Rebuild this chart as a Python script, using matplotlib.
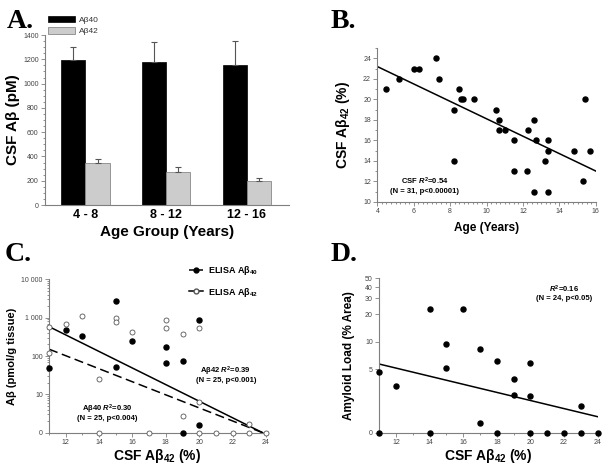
import numpy as np
import matplotlib
matplotlib.use("Agg")
import matplotlib.pyplot as plt
from matplotlib.ticker import MultipleLocator, NullLocator, NullFormatter, LogLocator
from matplotlib.lines import Line2D

plt.rcParams['font.family'] = ['Liberation Sans', 'DejaVu Sans']
plt.rcParams['mathtext.fontset'] = 'custom'
plt.rcParams['mathtext.rm'] = 'Liberation Sans'
plt.rcParams['mathtext.bf'] = 'Liberation Sans:bold'
plt.rcParams['mathtext.it'] = 'Liberation Sans:bold:italic'
plt.rcParams['mathtext.default'] = 'bf'

# --- A: CSF Abeta by age group
groups = ['4 - 8', '8 - 12', '12 - 16']
ab40 = [1195, 1180, 1150]
ab40_err = [110, 160, 200]
ab42 = [345, 270, 195]
ab42_err = [30, 40, 30]

# --- B: CSF Abeta42 % vs age
age = [4.5, 5.2, 6.0, 6.3, 7.2, 7.4, 8.2, 8.2, 8.5, 8.6, 8.7, 9.3, 10.5, 10.7, 10.7, 11.0,
       11.5, 11.5, 12.2, 12.3, 12.6, 12.6, 12.7, 13.2, 13.4, 13.4, 13.4, 14.8, 15.3, 15.4, 15.7]
csf_b = [21, 22, 23, 23, 24, 22, 19, 14, 21, 20, 20, 20, 19, 18, 17, 17,
         16, 13, 13, 17, 18, 11, 16, 14, 16, 15, 11, 15, 12, 20, 15]
fit_b_x = [4, 16]
fit_b_y = [23.2, 13.0]

# --- C: ELISA Abeta vs CSF Abeta42 %
c40_x = [11, 12, 13, 15, 15, 16, 18, 18, 19, 19, 20, 20]
c40_y = [48, 480, 330, 2800, 52, 243, 170, 66, 76, 0, 870, 1.6]
c42_x = [11, 11, 12, 13, 14, 14, 15, 15, 16, 17, 18, 18, 19, 19, 20, 20, 20, 21, 22, 23, 23, 24]
c42_y = [585, 123, 675, 1130, 25, 0, 970, 780, 415, 0, 860, 530, 380, 2.8, 540, 6.3, 0,
         0, 0, 1.7, 0, 0]
fit40_x = [11, 23.8]
fit40_y = [151, 1]
fit42_x = [11, 23.8]
fit42_y = [585, 1]

# --- D: amyloid load vs CSF Abeta42 %
d_x = [11, 11, 12, 14, 14, 15, 15, 16, 17, 17, 18, 18, 19, 19, 20, 20, 20, 21, 22, 23, 23, 24]
d_y = [4.65, 0, 3.3, 22.9, 0, 9.4, 5.2, 22.9, 8.3, 1.28, 6.2, 0, 3.95, 2.62, 5.9, 2.52, 0,
       0, 0, 1.95, 0, 0]
fit_d_x = [11, 24]
fit_d_y = [5.7, 1.5]

spine_col = '#7f7f7f'
tick_col = '#444444'


def style(ax):
    for s in ['top', 'right']:
        ax.spines[s].set_visible(False)
    for s in ['left', 'bottom']:
        ax.spines[s].set_color(spine_col)
        ax.spines[s].set_linewidth(0.8)
    ax.tick_params(which='both', colors=spine_col, labelcolor=tick_col, labelsize=5,
                   width=0.6, direction='out')
    ax.tick_params(which='major', length=3, pad=1.5)
    ax.tick_params(which='minor', length=1.6)


fig = plt.figure(figsize=(6.04, 4.67), dpi=100)

# ---------------- A
axA = fig.add_axes([0.0745, 0.561, 0.404, 0.364])
x = np.arange(len(groups))
w = 0.3
axA.bar(x - w / 2, ab40, w, color='black', edgecolor='black', linewidth=0.5, label='Aβ40')
axA.bar(x + w / 2, ab42, w, color='#cccccc', edgecolor='#888888', linewidth=0.6, label='Aβ42')
axA.errorbar(x - w / 2, ab40, yerr=[[0] * 3, ab40_err], fmt='none', ecolor='#555555',
             elinewidth=0.8, capsize=2.5, capthick=0.8)
axA.errorbar(x + w / 2, ab42, yerr=[[0] * 3, ab42_err], fmt='none', ecolor='#555555',
             elinewidth=0.8, capsize=2.5, capthick=0.8)
axA.set_xlim(-0.5, 2.52)
axA.set_ylim(0, 1400)
axA.yaxis.set_major_locator(MultipleLocator(200))
axA.yaxis.set_minor_locator(MultipleLocator(50))
style(axA)
axA.set_xticks(x)
axA.set_xticklabels(groups, fontsize=9, fontweight='bold', color='black')
axA.tick_params(axis='x', length=0, pad=3)
axA.set_ylabel('CSF Aβ (pM)', fontsize=11, fontweight='bold', labelpad=2)
axA.set_xlabel('Age Group (Years)', fontsize=11, fontweight='bold', labelpad=3)
axA.legend(loc='lower left', bbox_to_anchor=(0.0, 0.98), fontsize=6, frameon=False,
           handlelength=3.2, handleheight=0.9, labelspacing=0.35, borderaxespad=0,
           handletextpad=0.5, labelcolor='#333333')

# ---------------- B
axB = fig.add_axes([0.6247, 0.568, 0.3616, 0.329])
axB.scatter(age, csf_b, s=13, color='black', zorder=3, clip_on=False)
axB.plot(fit_b_x, fit_b_y, color='black', lw=1.1)
axB.set_xlim(4, 16)
axB.set_ylim(10, 25)
axB.xaxis.set_major_locator(MultipleLocator(2))
axB.xaxis.set_minor_locator(MultipleLocator(0.25))
axB.yaxis.set_major_locator(MultipleLocator(2))
axB.yaxis.set_minor_locator(MultipleLocator(1))
style(axB)
axB.set_ylabel('CSF Aβ$_{42}$ (%)', fontsize=10, fontweight='bold', labelpad=8)
axB.set_xlabel('Age (Years)', fontsize=8.5, fontweight='bold', labelpad=5)
axB.text(6.6, 12.0, 'CSF $\\mathit{R}^2$=0.54', fontsize=5.5, fontweight='bold', ha='center', va='center')
axB.text(6.6, 11.0, '(N = 31, p<0.00001)', fontsize=5.5, fontweight='bold', ha='center', va='center')

# ---------------- C
axC = fig.add_axes([0.0811, 0.0734, 0.3593, 0.3285])
axC.set_yscale('log')
axC.scatter(c40_x, np.clip(c40_y, 1, None), s=13, color='black', zorder=3, clip_on=False)
axC.scatter(c42_x, np.clip(c42_y, 1, None), s=13, facecolor='white', edgecolor='#555555',
            linewidth=0.6, zorder=4, clip_on=False)
axC.plot(fit40_x, fit40_y, color='black', lw=1.1, dashes=(6, 3))
axC.plot(fit42_x, fit42_y, color='black', lw=1.1)
axC.set_xlim(11, 24)
axC.set_ylim(1, 10000)
axC.set_yticks([1, 10, 100, 1000, 10000])
axC.set_yticklabels(['0', '10', '100', '1 000', '10 000'])
axC.yaxis.set_minor_locator(LogLocator(subs=np.arange(2, 10)))
axC.yaxis.set_minor_formatter(NullFormatter())
axC.xaxis.set_major_locator(MultipleLocator(2))
axC.xaxis.set_minor_locator(MultipleLocator(1))
style(axC)
axC.set_ylabel('Aβ (pmol/g tissue)', fontsize=8, fontweight='bold', labelpad=3)
axC.set_xlabel('CSF Aβ$_{42}$ (%)', fontsize=10, fontweight='bold', labelpad=1)
axC.text(14.5, 4.0, 'Aβ40 $\\mathit{R}^2$=0.30', fontsize=5.5, fontweight='bold', ha='center', va='center')
axC.text(14.5, 2.3, '(N = 25, p<0.004)', fontsize=5.5, fontweight='bold', ha='center', va='center')
axC.text(21.6, 40, 'Aβ42 $\\mathit{R}^2$=0.39', fontsize=5.5, fontweight='bold', ha='center', va='center')
axC.text(21.6, 23, '(N = 25, p<0.001)', fontsize=5.5, fontweight='bold', ha='center', va='center')
h40 = (Line2D([], [], color='black', lw=1.1, dashes=(4, 2)),
       Line2D([], [], marker='o', ms=3.5, color='black', ls='none'))
h42 = (Line2D([], [], color='black', lw=1.1),
       Line2D([], [], marker='o', ms=3.5, mfc='white', mec='#555555', ls='none'))
axC.legend([h40, h42], ['ELISA Aβ$_{40}$', 'ELISA Aβ$_{42}$'], loc='upper right',
           bbox_to_anchor=(1.0, 1.15), frameon=False, handlelength=1.5,
           labelspacing=0.9, handletextpad=0.6, prop={'weight': 'bold', 'size': 6.5})

# ---------------- D
axD = fig.add_axes([0.6278, 0.0734, 0.3618, 0.3306])
axD.set_yscale('log')
axD.scatter(d_x, np.clip(d_y, 1, None), s=13, color='black', zorder=3, clip_on=False)
axD.plot(fit_d_x, fit_d_y, color='black', lw=1.1)
axD.set_xlim(11, 24)
axD.set_ylim(1, 50)
axD.set_yticks([1, 5, 10, 20, 30, 40, 50])
axD.set_yticklabels(['0', '5', '10', '20', '30', '40', '50'])
axD.yaxis.set_minor_locator(NullLocator())
axD.xaxis.set_major_locator(MultipleLocator(2))
axD.xaxis.set_minor_locator(MultipleLocator(1))
style(axD)
axD.set_ylabel('Amyloid Load (% Area)', fontsize=8.5, fontweight='bold', labelpad=7)
axD.set_xlabel('CSF Aβ$_{42}$ (%)', fontsize=10, fontweight='bold', labelpad=1)
axD.text(22.0, 38, '$\\mathit{R}^2$=0.16', fontsize=5.5, fontweight='bold', ha='center', va='center')
axD.text(22.0, 30, '(N = 24, p<0.05)', fontsize=5.5, fontweight='bold', ha='center', va='center')

# panel letters
for lab, (px, py) in zip(['A.', 'B.', 'C.', 'D.'],
                         [(0.012, 0.955), (0.548, 0.955), (0.008, 0.455), (0.548, 0.455)]):
    fig.text(px, py, lab, fontsize=20, fontweight='bold', family='Liberation Serif',
             va='center', ha='left')

fig.savefig('out.png', dpi=100)
